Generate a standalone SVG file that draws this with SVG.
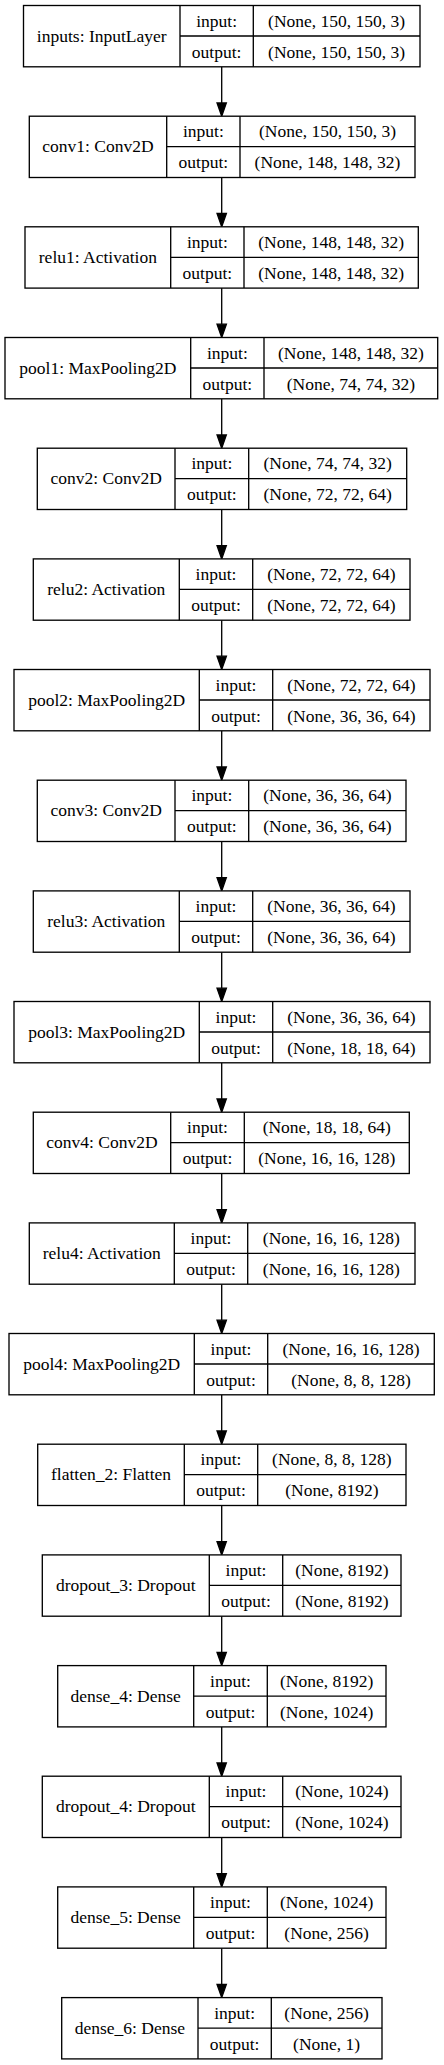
<svg xmlns="http://www.w3.org/2000/svg" width="444" height="2065" viewBox="0 0 444 2065">
<style>
.b{fill:#fff;stroke:#000;stroke-width:1.33}
.l{stroke:#000;stroke-width:1.33;fill:none}
text{font-family:"Liberation Serif","Times New Roman",serif;font-size:17.5px;fill:#000;text-anchor:middle}
.c{stroke:#000;stroke-width:1.33;fill:none;marker-end:url(#ah)}
</style>
<defs>
<marker id="ah" markerUnits="userSpaceOnUse" markerWidth="16" markerHeight="12" refX="0" refY="6" orient="auto" viewBox="0 0 16 12" overflow="visible">
<path d="M0,1.33 L13.3,6 L0,10.67 Z" fill="#000" stroke="#000" stroke-width="1.33"/>
</marker>
</defs>
<rect width="444" height="2065" fill="#fff"/>
<g id="connectors">
<line class="c" x1="221.7" y1="66.8" x2="221.7" y2="102.9"/>
<line class="c" x1="221.7" y1="177.5" x2="221.7" y2="213.5"/>
<line class="c" x1="221.7" y1="288.1" x2="221.7" y2="324.2"/>
<line class="c" x1="221.7" y1="398.8" x2="221.7" y2="434.9"/>
<line class="c" x1="221.7" y1="509.5" x2="221.7" y2="545.6"/>
<line class="c" x1="221.7" y1="620.2" x2="221.7" y2="656.2"/>
<line class="c" x1="221.7" y1="730.8" x2="221.7" y2="766.9"/>
<line class="c" x1="221.7" y1="841.5" x2="221.7" y2="877.6"/>
<line class="c" x1="221.7" y1="952.2" x2="221.7" y2="988.2"/>
<line class="c" x1="221.7" y1="1062.8" x2="221.7" y2="1098.9"/>
<line class="c" x1="221.7" y1="1173.5" x2="221.7" y2="1209.6"/>
<line class="c" x1="221.7" y1="1284.2" x2="221.7" y2="1320.2"/>
<line class="c" x1="221.7" y1="1394.8" x2="221.7" y2="1430.9"/>
<line class="c" x1="221.7" y1="1505.5" x2="221.7" y2="1541.6"/>
<line class="c" x1="221.7" y1="1616.2" x2="221.7" y2="1652.3"/>
<line class="c" x1="221.7" y1="1726.9" x2="221.7" y2="1762.9"/>
<line class="c" x1="221.7" y1="1837.5" x2="221.7" y2="1873.6"/>
<line class="c" x1="221.7" y1="1948.2" x2="221.7" y2="1984.3"/>
</g>
<g id="inputs" transform="translate(0,5.5)">
<rect class="b" x="23.5" y="0" width="396.5" height="61.3"/>
<path class="l" d="M180,0V61.3M253.3,0V61.3M180,30.5H420"/>
<text x="101.75" y="36">inputs: InputLayer</text>
<text x="216.65" y="21.3">input:</text><text x="336.65" y="21.3">(None, 150, 150, 3)</text>
<text x="216.65" y="52.3">output:</text><text x="336.65" y="52.3">(None, 150, 150, 3)</text>
</g>
<g id="conv1" transform="translate(0,116.2)">
<rect class="b" x="29.3" y="0" width="385.7" height="61.3"/>
<path class="l" d="M166.7,0V61.3M240,0V61.3M166.7,30.5H415"/>
<text x="98" y="36">conv1: Conv2D</text>
<text x="203.35" y="21.3">input:</text><text x="327.5" y="21.3">(None, 150, 150, 3)</text>
<text x="203.35" y="52.3">output:</text><text x="327.5" y="52.3">(None, 148, 148, 32)</text>
</g>
<g id="relu1" transform="translate(0,226.8)">
<rect class="b" x="25" y="0" width="393.3" height="61.3"/>
<path class="l" d="M170.7,0V61.3M244,0V61.3M170.7,30.5H418.3"/>
<text x="97.85" y="36">relu1: Activation</text>
<text x="207.35" y="21.3">input:</text><text x="331.15" y="21.3">(None, 148, 148, 32)</text>
<text x="207.35" y="52.3">output:</text><text x="331.15" y="52.3">(None, 148, 148, 32)</text>
</g>
<g id="pool1" transform="translate(0,337.5)">
<rect class="b" x="5" y="0" width="432.7" height="61.3"/>
<path class="l" d="M190.7,0V61.3M264,0V61.3M190.7,30.5H437.7"/>
<text x="97.85" y="36">pool1: MaxPooling2D</text>
<text x="227.35" y="21.3">input:</text><text x="350.85" y="21.3">(None, 148, 148, 32)</text>
<text x="227.35" y="52.3">output:</text><text x="350.85" y="52.3">(None, 74, 74, 32)</text>
</g>
<g id="conv2" transform="translate(0,448.2)">
<rect class="b" x="37.3" y="0" width="369.4" height="61.3"/>
<path class="l" d="M175,0V61.3M248.7,0V61.3M175,30.5H406.7"/>
<text x="106.15" y="36">conv2: Conv2D</text>
<text x="211.85" y="21.3">input:</text><text x="327.7" y="21.3">(None, 74, 74, 32)</text>
<text x="211.85" y="52.3">output:</text><text x="327.7" y="52.3">(None, 72, 72, 64)</text>
</g>
<g id="relu2" transform="translate(0,558.9)">
<rect class="b" x="33.3" y="0" width="376.7" height="61.3"/>
<path class="l" d="M179.3,0V61.3M252.7,0V61.3M179.3,30.5H410"/>
<text x="106.3" y="36">relu2: Activation</text>
<text x="216" y="21.3">input:</text><text x="331.35" y="21.3">(None, 72, 72, 64)</text>
<text x="216" y="52.3">output:</text><text x="331.35" y="52.3">(None, 72, 72, 64)</text>
</g>
<g id="pool2" transform="translate(0,669.5)">
<rect class="b" x="14" y="0" width="416" height="61.3"/>
<path class="l" d="M199.3,0V61.3M272.7,0V61.3M199.3,30.5H430"/>
<text x="106.65" y="36">pool2: MaxPooling2D</text>
<text x="236" y="21.3">input:</text><text x="351.35" y="21.3">(None, 72, 72, 64)</text>
<text x="236" y="52.3">output:</text><text x="351.35" y="52.3">(None, 36, 36, 64)</text>
</g>
<g id="conv3" transform="translate(0,780.2)">
<rect class="b" x="37.3" y="0" width="368.7" height="61.3"/>
<path class="l" d="M175,0V61.3M248.7,0V61.3M175,30.5H406"/>
<text x="106.15" y="36">conv3: Conv2D</text>
<text x="211.85" y="21.3">input:</text><text x="327.35" y="21.3">(None, 36, 36, 64)</text>
<text x="211.85" y="52.3">output:</text><text x="327.35" y="52.3">(None, 36, 36, 64)</text>
</g>
<g id="relu3" transform="translate(0,890.9)">
<rect class="b" x="33.3" y="0" width="376.7" height="61.3"/>
<path class="l" d="M179.3,0V61.3M252.7,0V61.3M179.3,30.5H410"/>
<text x="106.3" y="36">relu3: Activation</text>
<text x="216" y="21.3">input:</text><text x="331.35" y="21.3">(None, 36, 36, 64)</text>
<text x="216" y="52.3">output:</text><text x="331.35" y="52.3">(None, 36, 36, 64)</text>
</g>
<g id="pool3" transform="translate(0,1001.5)">
<rect class="b" x="14" y="0" width="416" height="61.3"/>
<path class="l" d="M199.3,0V61.3M272.7,0V61.3M199.3,30.5H430"/>
<text x="106.65" y="36">pool3: MaxPooling2D</text>
<text x="236" y="21.3">input:</text><text x="351.35" y="21.3">(None, 36, 36, 64)</text>
<text x="236" y="52.3">output:</text><text x="351.35" y="52.3">(None, 18, 18, 64)</text>
</g>
<g id="conv4" transform="translate(0,1112.2)">
<rect class="b" x="33.3" y="0" width="376" height="61.3"/>
<path class="l" d="M170.7,0V61.3M244.3,0V61.3M170.7,30.5H409.3"/>
<text x="102" y="36">conv4: Conv2D</text>
<text x="207.5" y="21.3">input:</text><text x="326.8" y="21.3">(None, 18, 18, 64)</text>
<text x="207.5" y="52.3">output:</text><text x="326.8" y="52.3">(None, 16, 16, 128)</text>
</g>
<g id="relu4" transform="translate(0,1222.9)">
<rect class="b" x="29.3" y="0" width="385.7" height="61.3"/>
<path class="l" d="M174.3,0V61.3M247.7,0V61.3M174.3,30.5H415"/>
<text x="101.8" y="36">relu4: Activation</text>
<text x="211" y="21.3">input:</text><text x="331.35" y="21.3">(None, 16, 16, 128)</text>
<text x="211" y="52.3">output:</text><text x="331.35" y="52.3">(None, 16, 16, 128)</text>
</g>
<g id="pool4" transform="translate(0,1333.5)">
<rect class="b" x="9" y="0" width="425.3" height="61.3"/>
<path class="l" d="M194.3,0V61.3M267.7,0V61.3M194.3,30.5H434.3"/>
<text x="101.65" y="36">pool4: MaxPooling2D</text>
<text x="231" y="21.3">input:</text><text x="351" y="21.3">(None, 16, 16, 128)</text>
<text x="231" y="52.3">output:</text><text x="351" y="52.3">(None, 8, 8, 128)</text>
</g>
<g id="flatten_2" transform="translate(0,1444.2)">
<rect class="b" x="37.7" y="0" width="368.3" height="61.3"/>
<path class="l" d="M184.3,0V61.3M257.7,0V61.3M184.3,30.5H406"/>
<text x="111" y="36">flatten_2: Flatten</text>
<text x="221" y="21.3">input:</text><text x="331.85" y="21.3">(None, 8, 8, 128)</text>
<text x="221" y="52.3">output:</text><text x="331.85" y="52.3">(None, 8192)</text>
</g>
<g id="dropout_3" transform="translate(0,1554.9)">
<rect class="b" x="42.3" y="0" width="358.7" height="61.3"/>
<path class="l" d="M209.3,0V61.3M282.7,0V61.3M209.3,30.5H401"/>
<text x="125.8" y="36">dropout_3: Dropout</text>
<text x="246" y="21.3">input:</text><text x="341.85" y="21.3">(None, 8192)</text>
<text x="246" y="52.3">output:</text><text x="341.85" y="52.3">(None, 8192)</text>
</g>
<g id="dense_4" transform="translate(0,1665.6)">
<rect class="b" x="57.7" y="0" width="328.3" height="61.3"/>
<path class="l" d="M193.7,0V61.3M267.3,0V61.3M193.7,30.5H386"/>
<text x="125.7" y="36">dense_4: Dense</text>
<text x="230.5" y="21.3">input:</text><text x="326.65" y="21.3">(None, 8192)</text>
<text x="230.5" y="52.3">output:</text><text x="326.65" y="52.3">(None, 1024)</text>
</g>
<g id="dropout_4" transform="translate(0,1776.2)">
<rect class="b" x="42.3" y="0" width="358.7" height="61.3"/>
<path class="l" d="M209.3,0V61.3M282.7,0V61.3M209.3,30.5H401"/>
<text x="125.8" y="36">dropout_4: Dropout</text>
<text x="246" y="21.3">input:</text><text x="341.85" y="21.3">(None, 1024)</text>
<text x="246" y="52.3">output:</text><text x="341.85" y="52.3">(None, 1024)</text>
</g>
<g id="dense_5" transform="translate(0,1886.9)">
<rect class="b" x="57.7" y="0" width="328.3" height="61.3"/>
<path class="l" d="M193.7,0V61.3M267.3,0V61.3M193.7,30.5H386"/>
<text x="125.7" y="36">dense_5: Dense</text>
<text x="230.5" y="21.3">input:</text><text x="326.65" y="21.3">(None, 1024)</text>
<text x="230.5" y="52.3">output:</text><text x="326.65" y="52.3">(None, 256)</text>
</g>
<g id="dense_6" transform="translate(0,1997.6)">
<rect class="b" x="61.7" y="0" width="320.3" height="61.3"/>
<path class="l" d="M198,0V61.3M271.3,0V61.3M198,30.5H382"/>
<text x="129.85" y="36">dense_6: Dense</text>
<text x="234.65" y="21.3">input:</text><text x="326.65" y="21.3">(None, 256)</text>
<text x="234.65" y="52.3">output:</text><text x="326.65" y="52.3">(None, 1)</text>
</g>
</svg>
